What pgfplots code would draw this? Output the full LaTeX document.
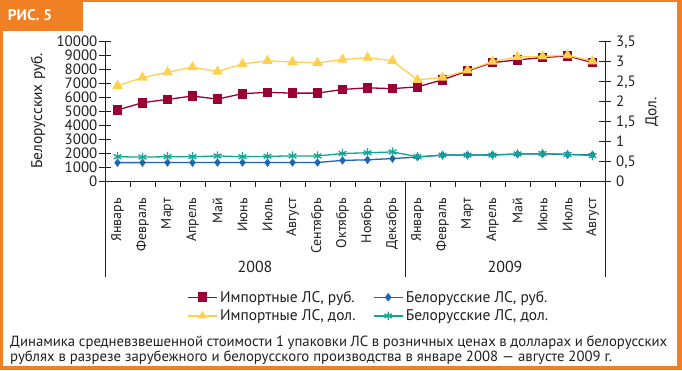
\documentclass[border=0pt]{standalone}
\usepackage{pgfplots}
\pgfplotsset{compat=1.18}
\usepackage{fontspec}
\setmainfont{PT Sans}
\definecolor{orng}{RGB}{241,128,37}
\definecolor{txt}{RGB}{35,31,32}
\definecolor{imprub}{RGB}{153,0,51}
\definecolor{impdol}{RGB}{255,208,80}
\definecolor{belrub}{RGB}{30,100,180}
\definecolor{beldol}{RGB}{20,165,150}
\pgfplotstableread{
x imprub belrub impdol beldol
0 5100 1320 2.39 0.61
1 5620 1320 2.60 0.60
2 5860 1330 2.73 0.61
3 6100 1320 2.86 0.61
4 5880 1330 2.75 0.63
5 6270 1330 2.94 0.61
6 6360 1320 3.02 0.62
7 6310 1330 2.99 0.63
8 6310 1330 2.97 0.63
9 6570 1480 3.05 0.69
10 6690 1520 3.10 0.71
11 6630 1610 3.02 0.73
12 6760 1720 2.54 0.61
13 7260 1860 2.60 0.65
14 7900 1860 2.78 0.65
15 8500 1880 3.00 0.65
16 8690 1930 3.12 0.68
17 8860 1950 3.13 0.69
18 8980 1900 3.16 0.67
19 8500 1880 3.01 0.64
}\data
\pgfplotsset{
  every axis/.append style={
    scale only axis, width=500bp, height=139.3bp,
    at={(105bp,189bp)}, anchor=south west,
    xmin=-0.5, xmax=19.5,
    axis line style={txt, line width=0.8bp},
    tick style={txt, line width=0.8bp},
    tick align=center, major tick length=12bp,
    tick label style={txt, font=\fontsize{15}{15}\selectfont},
    /pgf/number format/assume math mode=true,
    clip=false,
  },
  legimg/.style={legend image code/.code={\draw[mark repeat=2,mark phase=2] plot coordinates {(0bp,0bp) (14.5bp,0bp) (29bp,0bp)};}},
}
\begin{document}
\begin{tikzpicture}[x=1bp,y=1bp]
\useasboundingbox (0,0) rectangle (682,370);
\fill[orng] (0,0) rectangle (682,370);
\fill[white] (3,4) rectangle (677,368.3);
\fill[orng] (0,339) rectangle (83,370);
\node[white, font=\fontsize{15.5}{16}\selectfont\bfseries] at (30,354.5) {РИС. 5};
\begin{axis}[
  axis x line*=bottom, axis y line*=left,
  ymin=0, ymax=10000, ytick={0,1000,...,10000},
  scaled y ticks=false,
  yticklabel style={/pgf/number format/fixed, /pgf/number format/set thousands separator={}},
  yticklabel style={anchor=east, inner sep=0pt, text height=10.5bp, text depth=0bp},
  yticklabel shift=1.5bp,
  xtick={0,...,19},
  xticklabels={Январь,Февраль,Март,Апрель,Май,Июнь,Июль,Август,Сентябрь,Октябрь,Ноябрь,Декабрь,Январь,Февраль,Март,Апрель,Май,Июнь,Июль,Август},
  x tick style={draw=none},
  xticklabel style={rotate=90, anchor=east, inner sep=0pt, font=\fontsize{14}{15}\selectfont},
  xticklabel shift=11bp,
  legend columns=2,
  legend cell align=left,
  legend style={at={(0.528,-0.901)}, anchor=center, draw=none, fill=none,
    font=\fontsize{15.5}{16}\selectfont, text=txt, inner xsep=0pt, inner ysep=0pt,
    row sep=1bp, nodes={inner sep=2.5bp},
    /tikz/every even column/.append style={column sep=15bp}},
]
\addplot[imprub, line width=1.3bp, mark=square*, mark size=4.2bp, legimg] table[x=x,y=imprub]{\data};
\addlegendentry{Импортные ЛС, руб.}
\addplot[belrub, line width=1.3bp, mark=diamond*, mark size=3.2bp, legimg] table[x=x,y=belrub]{\data};
\addlegendentry{Белорусские ЛС, руб.}
\addlegendimage{impdol, line width=1.3bp, mark=triangle*, mark size=3.8bp, legimg}
\addlegendentry{Импортные ЛС, дол.}
\addlegendimage{beldol, line width=1.3bp, mark=asterisk, mark size=4.2bp, legimg}
\addlegendentry{Белорусские ЛС, дол.}
\end{axis}
\begin{axis}[
  axis x line=none, axis y line*=right,
  ymin=0, ymax=3.5, ytick={0,0.5,...,3.5},
  yticklabel style={/pgf/number format/fixed, /pgf/number format/use comma, /pgf/number format/precision=1},
  yticklabel style={anchor=west, inner sep=0pt, text height=10.5bp, text depth=0bp},
  yticklabel shift=5bp,
]
\addplot[impdol, line width=1.3bp, mark=triangle*, mark size=4.8bp] table[x=x,y=impdol]{\data};
\addplot[beldol, line width=1.3bp, mark=asterisk, mark size=4.5bp] table[x=x,y=beldol]{\data};
\end{axis}
\foreach \k in {1,...,19} \draw[txt, line width=0.8bp] (105+25*\k,189) -- ++(0,-6);
\foreach \xx in {105,405,605} \draw[txt, line width=0.8bp] (\xx,189) -- (\xx,93);
\node[txt, font=\fontsize{16}{17}\selectfont] at (255,103) {2008};
\node[txt, font=\fontsize{16}{17}\selectfont] at (505,103) {2009};
\node[txt, rotate=90, font=\fontsize{15.5}{16}\selectfont] at (38,259) {Белорусских руб.};
\node[txt, rotate=90, font=\fontsize{15.5}{16}\selectfont] at (652,258) {Дол.};
\node[txt, anchor=base west, inner sep=0pt, font=\fontsize{14.8}{15}\selectfont] at (10,24) {\makebox[657bp][s]{Динамика средневзвешенной стоимости 1 упаковки ЛС в розничных ценах в долларах и белорусских}};
\node[txt, anchor=base west, inner sep=0pt, font=\fontsize{14.8}{15}\selectfont] at (10,9) {рублях в разрезе зарубежного и белорусского производства в январе 2008 — августе 2009 г.};
\end{tikzpicture}
\end{document}
